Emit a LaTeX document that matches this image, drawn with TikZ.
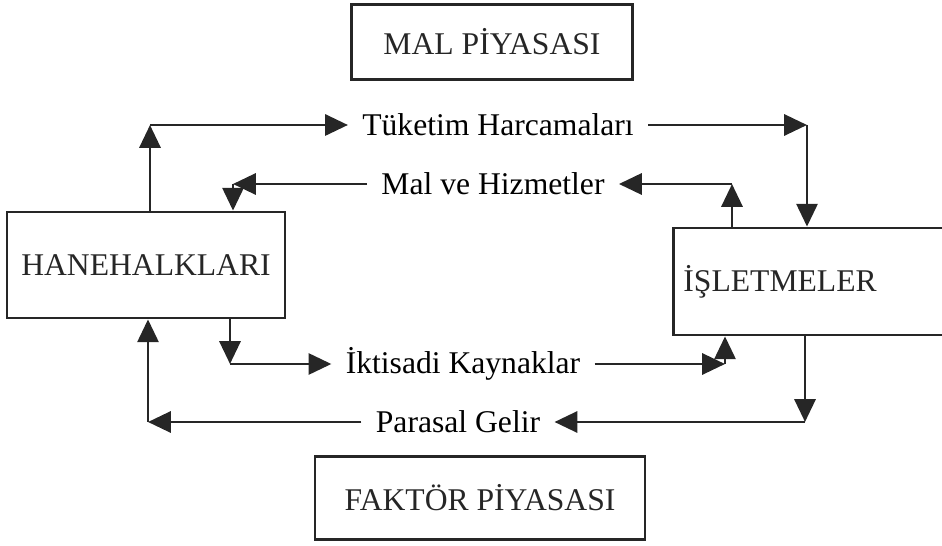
\documentclass[tikz,border=0pt]{standalone}
\usepackage{fontspec}
\setmainfont{Liberation Serif}
\usepackage{tikz}
\usetikzlibrary{arrows.meta}

\begin{document}
\begin{tikzpicture}[x=0.02cm,y=-0.02cm,
    font=\fontsize{18}{21}\selectfont,
    market/.style={draw,line width=1.6pt,black!85},
    flowlabel/.style={inner xsep=8pt},
    flow/.style={line width=1.6pt,black!85,-{Triangle[length=13pt,width=12pt]}}]
    \useasboundingbox (0,0) rectangle (942,546);
    \clip (0,0) rectangle (942,546);

    % boxes
    \node[market,minimum width=5.62cm,minimum height=1.5cm] (mal) at (492,42) {MAL PİYASASI};
    \node[market,minimum width=6.6cm,minimum height=1.66cm] (faktor) at (480,498) {FAKTÖR PİYASASI};
    \node[market,minimum width=5.56cm,minimum height=2.12cm] (hane) at (146,265) {HANEHALKLARI};
    \node[market,anchor=west,minimum height=2.14cm,text width=6.2cm,
          inner xsep=0.2cm,align=left] (isletme) at (672,281.5) {İŞLETMELER};

    % flow labels
    \node[flowlabel] (tuketim) at (498,125) {Tüketim Harcamaları};
    \node[flowlabel] (hizmet) at (493,184) {Mal ve Hizmetler};
    \node[flowlabel] (kaynak) at (463,364) {İktisadi Kaynaklar};
    \node[flowlabel] (gelir) at (458,422) {Parasal Gelir};

    % corners
    \coordinate (c1) at (150,125);
    \coordinate (c2) at (807,125);
    \coordinate (c3) at (732,184);
    \coordinate (c4) at (233,184);
    \coordinate (c5) at (230,364);
    \coordinate (c6) at (725,364);
    \coordinate (c7) at (805,422);
    \coordinate (c8) at (148,422);

    % goods market flows
    \draw[flow] (hane.north -| c1) -- (c1);
    \draw[flow] (c1) -- (tuketim.west);
    \draw[flow] (tuketim.east) -- (c2);
    \draw[flow] (c2) -- (isletme.north -| c2);
    \draw[flow] (isletme.north -| c3) -- (c3);
    \draw[flow] (c3) -- (hizmet.east);
    \draw[flow] (hizmet.west) -- (c4);
    \draw[flow] (c4) -- (hane.north -| c4);

    % factor market flows
    \draw[flow] (hane.south -| c5) -- (c5);
    \draw[flow] (c5) -- (kaynak.west);
    \draw[flow] (kaynak.east) -- (c6);
    \draw[flow] (c6) -- (isletme.south -| c6);
    \draw[flow] (isletme.south -| c7) -- (c7);
    \draw[flow] (c7) -- (gelir.east);
    \draw[flow] (gelir.west) -- (c8);
    \draw[flow] (c8) -- (hane.south -| c8);
\end{tikzpicture}
\end{document}
